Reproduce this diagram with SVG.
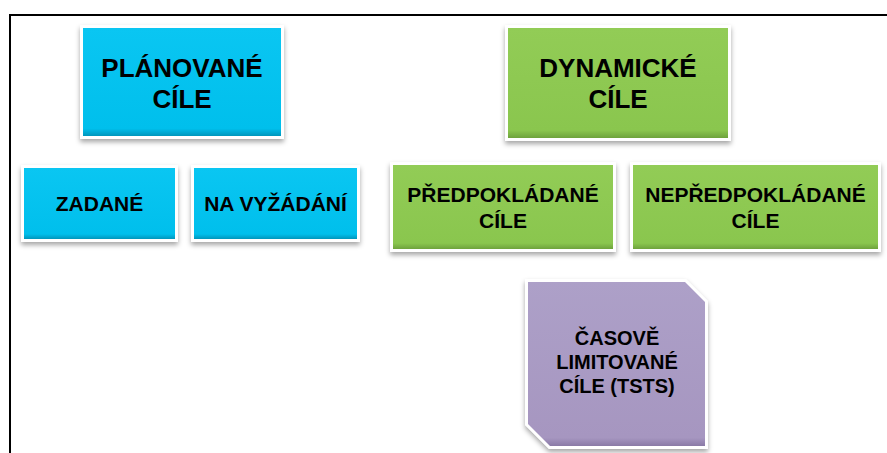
<svg xmlns="http://www.w3.org/2000/svg" width="887" height="453" viewBox="0 0 887 453">
<defs>
<filter id="sh" x="-10%" y="-10%" width="120%" height="130%">
<feDropShadow dx="0" dy="3" stdDeviation="2.5" flood-color="#000" flood-opacity="0.35"/>
</filter>
<linearGradient id="gb" x1="0" y1="0" x2="0" y2="1">
<stop offset="0" stop-color="#0AC6F2"/>
<stop offset="0.93" stop-color="#00BFEC"/>
<stop offset="1" stop-color="#0096BC"/>
</linearGradient>
<linearGradient id="gg" x1="0" y1="0" x2="0" y2="1">
<stop offset="0" stop-color="#92CC56"/>
<stop offset="0.93" stop-color="#8AC64E"/>
<stop offset="1" stop-color="#6EA23C"/>
</linearGradient>
<linearGradient id="gp" x1="0" y1="0" x2="0" y2="1">
<stop offset="0" stop-color="#ADA0C8"/>
<stop offset="0.95" stop-color="#A696C0"/>
<stop offset="1" stop-color="#8A7AA6"/>
</linearGradient>
</defs>
<style>
.frame{fill:none;stroke:#000;stroke-width:2}
.wb{fill:#fff;filter:url(#sh)}
.blue{fill:url(#gb)}
.green{fill:url(#gg)}
.purple{fill:url(#gp)}
text{font-family:"Liberation Sans",Arial,sans-serif;font-weight:bold;fill:#000;text-anchor:middle}
.big{font-size:26px}
.sm{font-size:21px}
.pu{font-size:20px}
</style>
<path class="frame" d="M10,453 V15 H887"/>
<g id="planovane">
<rect class="wb" x="80" y="25" width="204" height="114"/>
<rect class="blue" x="83" y="28" width="198" height="108"/>
<text class="big" x="182" y="77">PLÁNOVANÉ</text>
<text class="big" x="182" y="108">CÍLE</text>
</g>
<g id="dynamicke">
<rect class="wb" x="505" y="25" width="226" height="116"/>
<rect class="green" x="508" y="28" width="220" height="110"/>
<text class="big" x="618" y="77">DYNAMICKÉ</text>
<text class="big" x="618" y="108">CÍLE</text>
</g>
<g id="zadane">
<rect class="wb" x="21" y="165" width="157" height="77"/>
<rect class="blue" x="24" y="168" width="151" height="71"/>
<text class="sm" x="99.5" y="211">ZADANÉ</text>
</g>
<g id="navyzadani">
<rect class="wb" x="191" y="165" width="169" height="77"/>
<rect class="blue" x="194" y="168" width="163" height="71"/>
<text class="sm" x="275.5" y="211">NA VYŽÁDÁNÍ</text>
</g>
<g id="predpokladane">
<rect class="wb" x="390" y="162" width="226" height="90"/>
<rect class="green" x="393" y="165" width="220" height="84"/>
<text class="sm" x="503" y="202">PŘEDPOKLÁDANÉ</text>
<text class="sm" x="503" y="228">CÍLE</text>
</g>
<g id="nepredpokladane">
<rect class="wb" x="630" y="162" width="251" height="90"/>
<rect class="green" x="633" y="165" width="245" height="84"/>
<text class="sm" x="755.5" y="202">NEPŘEDPOKLÁDANÉ</text>
<text class="sm" x="755.5" y="228">CÍLE</text>
</g>
<g id="casove">
<polygon class="wb" points="525,279 686,279 708,301 708,449 549,449 525,425"/>
<polygon class="purple" points="528,282 685,282 705,302 705,446 550,446 528,424"/>
<text class="pu" x="617" y="345">ČASOVĚ</text>
<text class="pu" x="617" y="369">LIMITOVANÉ</text>
<text class="pu" x="617" y="393">CÍLE (TSTS)</text>
</g>
<g id="connectors"/>
</svg>
